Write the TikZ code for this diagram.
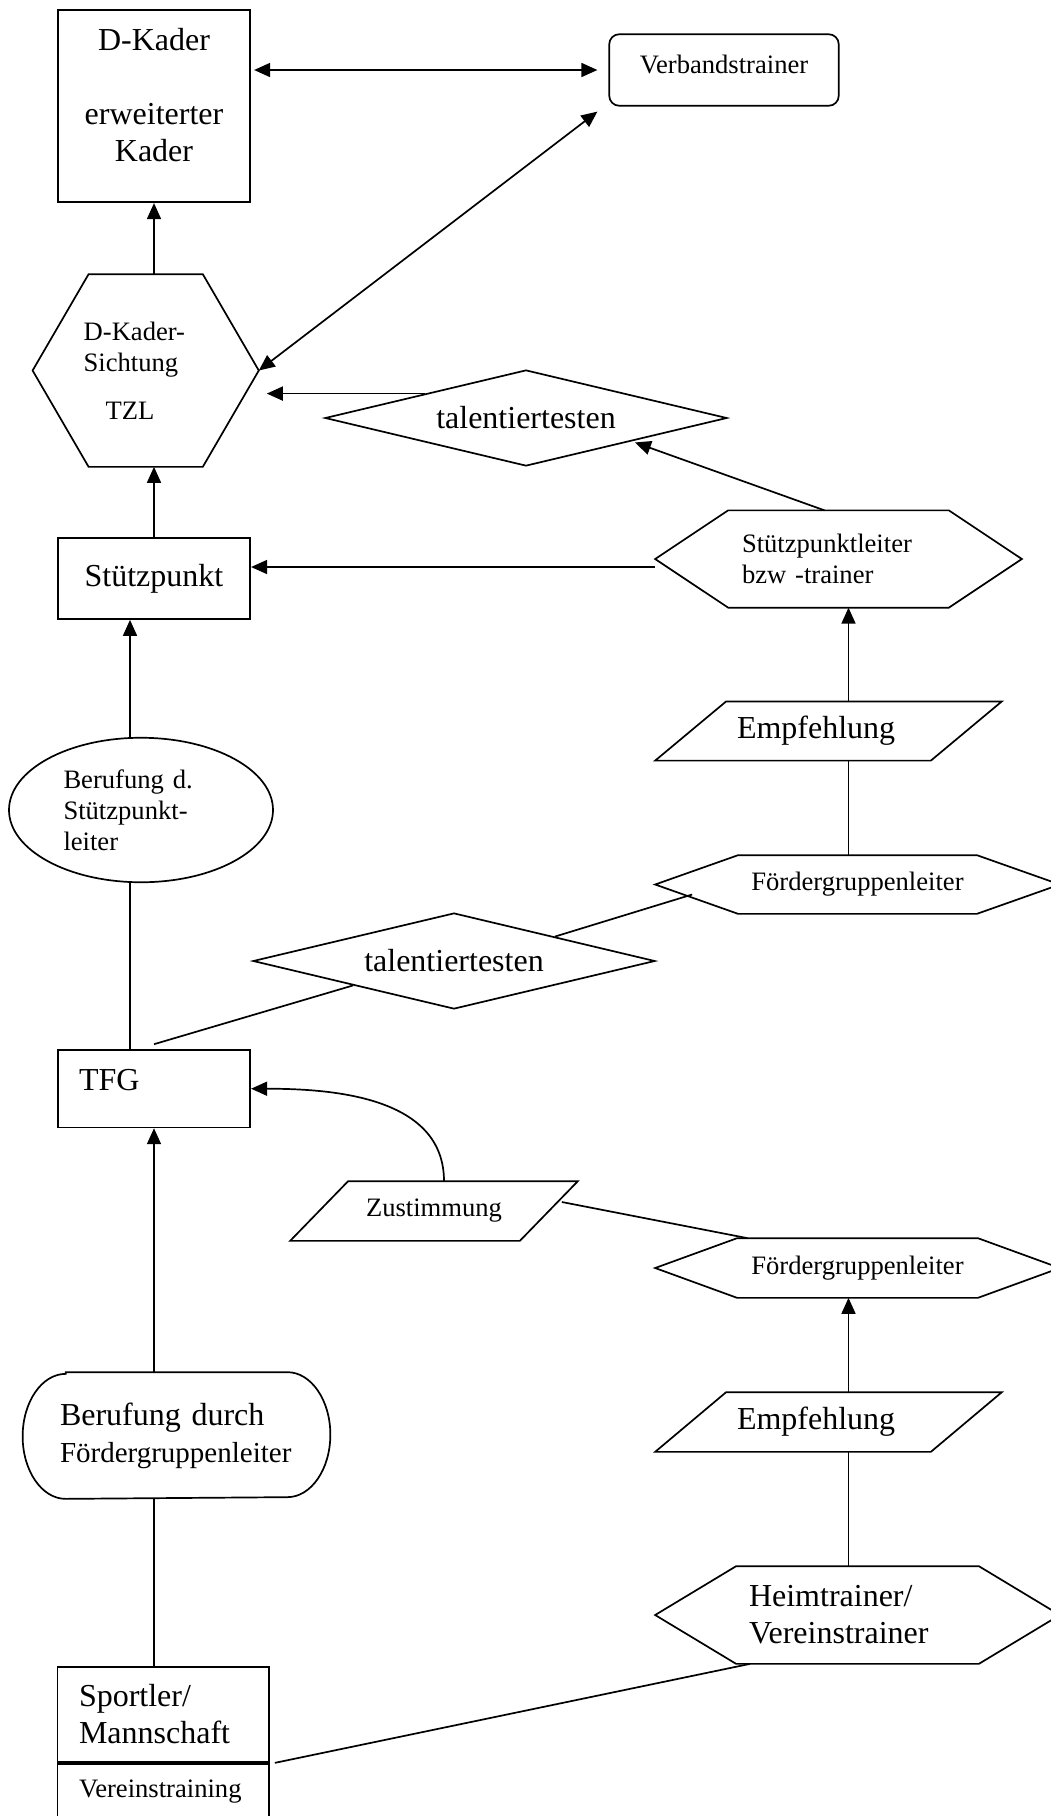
\documentclass[tikz,border=0pt]{standalone}
\usepackage{fontspec}
\setmainfont{Liberation Serif}
\usetikzlibrary{shapes.geometric}
\usetikzlibrary{arrows.meta}
\usetikzlibrary{positioning}

\newcommand{\bigtxt}{\fontsize{32}{37}\selectfont}
\newcommand{\smalltxt}{\fontsize{26.6}{31}\selectfont}
\newcommand{\midtxt}{\fontsize{29}{34}\selectfont}

% frames around plain (undrawn) rectangle nodes
\newcommand{\hexframe}[2]{%
	\draw (#1.west) -- ([xshift=#2]#1.north west) -- ([xshift=-#2]#1.north east)
		-- (#1.east) -- ([xshift=-#2]#1.south east) -- ([xshift=#2]#1.south west) -- cycle;}
\newcommand{\slantframe}[2]{%
	\draw ([xshift=#2]#1.north west) -- (#1.north east)
		-- ([xshift=-#2]#1.south east) -- (#1.south west) -- cycle;}
\newcommand{\ovalframe}[3]{%
	\draw ([xshift=#2]#1.north west) -- ([xshift=-#2]#1.north east)
		arc[start angle=90, end angle=-90, x radius=#2, y radius=#3]
		-- ([xshift=#2]#1.south west)
		arc[start angle=270, end angle=90, x radius=#2, y radius=#3] -- cycle;}

\begin{document}
\begin{tikzpicture}[x=1pt, y=-1pt, line width=1.7pt,
		>={Triangle[length=16pt, width=14pt]},
		box/.style={draw, rectangle, inner sep=0pt, font=\bigtxt},
		plain/.style={rectangle, inner sep=0pt},
		talent/.style={draw, diamond, aspect=4.2, inner sep=0pt,
			minimum width=402pt, minimum height=96pt, font=\bigtxt}]
	\useasboundingbox (0,0) rectangle (1050,1816);

	% left column
	\node[box, minimum width=192.5pt, minimum height=192.5pt, align=center, text depth=23pt] (dkader) at (154,106) {D-Kader\\[37pt]erweiterter\\Kader};
	\node[plain, minimum width=224.5pt, minimum height=191pt, font=\smalltxt, align=left, text width=124pt] (sichtung) at (145.7,370.5) {D-Kader-\\Sichtung\\[17pt]\hspace*{22pt}TZL};
	\hexframe{sichtung}{56pt}
	\node[box, minimum width=192.5pt, minimum height=81pt] (stuetz) at (154,578.5) {Stützpunkt};
	\node[draw, ellipse, inner sep=0pt, minimum width=264pt, minimum height=144.5pt, font=\smalltxt, align=left, text width=155pt] (berufd) at (141,810) {Berufung d.\\Stützpunkt-\\leiter};
	\node[box, minimum width=192.5pt, minimum height=77.3pt, align=left, text width=150pt, text depth=18pt] (tfg) at (154,1088.7) {TFG};
	\node[plain, minimum width=306pt, minimum height=125pt, font=\bigtxt, align=left, text width=233pt] (berufdurch) at (176.5,1435.5) {Berufung durch\\{\midtxt Fördergruppenleiter}};
	\ovalframe{berufdurch}{43pt}{62.5pt}
	\node[box, minimum width=211.4pt, minimum height=95pt, align=left, text width=168.6pt] (sportler) at (163.3,1714.5) {Sportler/\\Mannschaft};
	\node[box, font=\smalltxt, minimum width=211.4pt, minimum height=56pt, align=left, text width=168.6pt, below=0pt of sportler] (verein) {Vereinstraining};

	% middle and right
	\node[draw, rectangle, rounded corners=10pt, inner sep=0pt, minimum width=229.5pt, minimum height=71.5pt, font=\smalltxt, text depth=12pt] (verband) at (724,70) {Verbandstrainer};
	\node[talent] (talent1) at (526,418) {talentiertesten};
	\node[plain, minimum width=365pt, minimum height=95.6pt, font=\smalltxt, align=left, text width=193pt] (spleiter) at (838.5,559) {Stützpunktleiter\\bzw -trainer};
	\hexframe{spleiter}{73pt}
	\node[plain, minimum width=345pt, minimum height=57.5pt, font=\bigtxt, align=left, text width=183pt] (empf1) at (828.5,731) {Empfehlung};
	\slantframe{empf1}{71pt}
	\node[plain, minimum width=403pt, minimum height=57pt, font=\smalltxt] (foerd1) at (857.5,884.5) {Fördergruppenleiter};
	\hexframe{foerd1}{83pt}
	\node[talent] (talent2) at (454,961) {talentiertesten};
	\node[plain, minimum width=286pt, minimum height=58pt, font=\smalltxt] (zust) at (434,1211) {Zustimmung};
	\slantframe{zust}{58pt}
	\node[plain, minimum width=403pt, minimum height=58pt, font=\smalltxt] (foerd2) at (857.5,1268) {Fördergruppenleiter};
	\hexframe{foerd2}{82pt}
	\node[plain, minimum width=345pt, minimum height=58pt, font=\bigtxt, align=left, text width=183pt] (empf2) at (828.5,1422) {Empfehlung};
	\slantframe{empf2}{71pt}
	\node[plain, minimum width=403pt, minimum height=96pt, font=\bigtxt, align=left, text width=217pt] (heim) at (857.5,1615) {Heimtrainer/\\Vereinstrainer};
	\hexframe{heim}{81pt}

	% connectors
	\coordinate (coll) at ([xshift=-11pt]berufd.center);
	\coordinate (colr) at ([xshift=20pt]empf1.center);
	\coordinate (spin) at ([yshift=-8pt]spleiter.west);

	\draw[<->, shorten <=3pt, shorten >=11pt] (dkader.east |- verband.west) -- (verband.west);
	\draw[<->] (sichtung.east) -- ([xshift=-11pt,yshift=-5pt]verband.south west);
	\draw[->] (dkader.south |- sichtung.north) -- (dkader.south);
	\draw[->, shorten >=8pt] (talent1.north west) -- (sichtung.east |- talent1.north west);
	\draw[->] (stuetz.north) -- (stuetz.north |- sichtung.south);
	\draw[->] ([xshift=-14pt]spleiter.north) -- ([xshift=8pt]talent1.south east);
	\draw[->] (spin) -- (spin -| stuetz.east);
	\draw[->] (colr |- empf1.north) -- (colr |- spleiter.south);
	\draw (colr |- empf1.south) -- (colr |- foerd1.north);
	\draw (talent2.north east) -- ([xshift=37pt,yshift=-10pt]foerd1.west);
	\draw[->] (coll |- berufd.north) -- (coll |- stuetz.south);
	\draw (coll |- berufd.south) -- (coll |- tfg.north);
	\draw (talent2.south west) -- ([yshift=5pt]tfg.north);
	\draw[->] ([xshift=10pt]zust.north) to[out=90, in=0] (tfg.east);
	\draw ([xshift=-16pt,yshift=9pt]zust.east) -- ([xshift=-110pt]foerd2.north);
	\draw[->] (colr |- empf2.north) -- (colr |- foerd2.south);
	\draw (colr |- empf2.south) -- (colr |- heim.north);
	\draw[->] (tfg.south |- berufdurch.north) -- (tfg.south);
	\draw (tfg.south |- berufdurch.south) -- (tfg.south |- sportler.north);
	\draw ([xshift=-107.5pt]heim.south) -- ([xshift=5pt]sportler.south east);
\end{tikzpicture}
\end{document}
